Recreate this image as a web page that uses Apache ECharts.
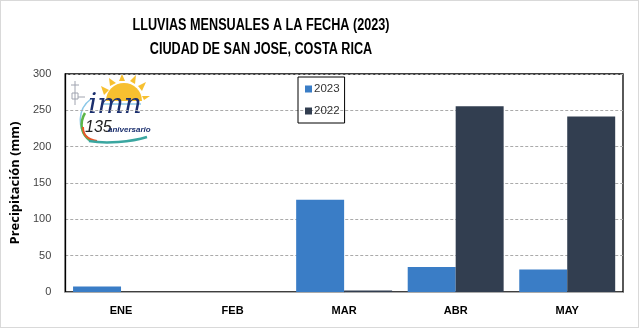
<!DOCTYPE html>
<html><head><meta charset="utf-8">
<script src="https://cdn.jsdelivr.net/npm/echarts@6/dist/echarts.min.js"></script>
<style>html,body{margin:0;padding:0;background:#fff}#c{width:639px;height:328px;box-sizing:border-box;border:1px solid #d9d9d9}</style>
</head><body><div id="c"></div>
<script>
const categories = ['ENE','FEB','MAR','ABR','MAY'];
const serie2023 = [7.5, 0, 127, 34.5, 31];
const serie2022 = [0, 0, 2, 255.5, 241.5];
const yTicks = [0, 50, 100, 150, 200, 250, 300];
const titleLines = ['LLUVIAS MENSUALES A LA FECHA (2023)', 'CIUDAD DE SAN JOSE, COSTA RICA'];

const chart = echarts.init(document.getElementById('c'), null, {renderer:'canvas'});
const sun = '#F7C030';
chart.setOption({
  animation:false,
  legend:{
    orient:'vertical', left:297, top:76,
    itemWidth:7, itemHeight:7, itemGap:10, padding:[6,5,6,7],
    borderColor:'#000', borderWidth:1, icon:'rect',
    textStyle:{fontFamily:'Liberation Sans, sans-serif', fontSize:11.5, color:'#333', padding:[0,0,0,-3]},
    data:['2023','2022']
  },
  grid:{left:63, right:15, top:73, bottom:35, show:true, borderColor:'#000', borderWidth:1.3, backgroundColor:'transparent'},
  xAxis:{
    type:'category', data:categories,
    axisLine:{show:true, lineStyle:{color:'#aaa'}}, axisTick:{show:false},
    axisLabel:{fontFamily:'Liberation Sans, sans-serif', fontWeight:'bold', fontSize:11, color:'#000', margin:13}
  },
  yAxis:{
    type:'value', min:yTicks[0], max:yTicks[yTicks.length-1], interval:50,
    name:'Precipitación (mm)', nameLocation:'middle', nameGap:31,
    nameTextStyle:{fontFamily:'Open Sans, sans-serif', fontWeight:'bold', fontSize:13, color:'#000'},
    axisLine:{show:true, lineStyle:{color:'#000', width:1.3}}, axisTick:{show:false},
    axisLabel:{fontFamily:'Liberation Sans, sans-serif', fontSize:11, color:'#444', margin:14},
    splitLine:{lineStyle:{color:'#aaa', type:[3,2]}}
  },
  series:[
    {name:'2023', type:'bar', data:serie2023, barGap:'0%', barCategoryGap:'14%', itemStyle:{color:'#3A7DC6'}},
    {name:'2022', type:'bar', data:serie2022, itemStyle:{color:'#323E50'}}
  ],
  graphic:[
    {type:'text', x:260, y:24.5, scaleX:0.79, style:{text:titleLines[0], x:0, y:0, align:'center', verticalAlign:'middle', fontFamily:'Liberation Sans, sans-serif', fontWeight:'bold', fontSize:16, fill:'#000'}},
    {type:'text', x:260, y:49, scaleX:0.79, style:{text:titleLines[1], x:0, y:0, align:'center', verticalAlign:'middle', fontFamily:'Liberation Sans, sans-serif', fontWeight:'bold', fontSize:16, fill:'#000'}},
    {type:'group', x:0, y:0, z:100, children:[
      {type:'rect', shape:{x:65, y:75, width:85, height:70}, style:{fill:'#fff'}},
      // sun
      {type:'sector', shape:{cx:123, cy:100, r0:0, r:18, startAngle:Math.PI, endAngle:2*Math.PI}, style:{fill:sun}},
      {type:'polygon', shape:{points:[[103,94],[100,85],[108,89]]}, style:{fill:sun}},
      {type:'polygon', shape:{points:[[109,85],[108,77],[115,82]]}, style:{fill:sun}},
      {type:'polygon', shape:{points:[[118,80],[121,73],[124,80]]}, style:{fill:sun}},
      {type:'polygon', shape:{points:[[129,80],[135,74],[134,83]]}, style:{fill:sun}},
      {type:'polygon', shape:{points:[[137,85],[145,81],[141,90]]}, style:{fill:sun}},
      {type:'polygon', shape:{points:[[141,95],[149,95],[143,99]]}, style:{fill:sun}},
      {type:'rect', shape:{x:94, y:100, width:56, height:4}, style:{fill:'#fff'}},
      {type:'line', shape:{x1:100, y1:103, x2:140, y2:103}, style:{stroke:'#8CC8E8', lineWidth:1.5}},
      // tower
      {type:'line', shape:{x1:74, y1:80, x2:74, y2:104}, style:{stroke:'#A0A4B0', lineWidth:1}},
      {type:'line', shape:{x1:70, y1:84, x2:78, y2:84}, style:{stroke:'#A0A4B0', lineWidth:1}},
      {type:'rect', shape:{x:71, y:92, width:6, height:6}, style:{fill:'none', stroke:'#A0A4B0', lineWidth:1}},
      {type:'line', shape:{x1:77, y1:96, x2:84, y2:96}, style:{stroke:'#A0A4B0', lineWidth:1}},
      // swooshes
      {type:'bezierCurve', shape:{x1:90, y1:98, cpx1:76, cpy1:108, cpx2:76, cpy2:128, x2:88, y2:140}, style:{stroke:'#8CC8E8', lineWidth:1.5, fill:'none'}},
      {type:'bezierCurve', shape:{x1:84, y1:112, cpx1:78, cpy1:122, cpx2:80, cpy2:134, x2:90, y2:140}, style:{stroke:'#5DB548', lineWidth:2.5, fill:'none'}},
      {type:'bezierCurve', shape:{x1:82, y1:126, cpx1:82, cpy1:134, cpx2:86, cpy2:138, x2:96, y2:140}, style:{stroke:'#E8572A', lineWidth:2, fill:'none'}},
      {type:'bezierCurve', shape:{x1:88, y1:140, cpx1:105, cpy1:143, cpx2:130, cpy2:141, x2:146, y2:136}, style:{stroke:'#3AA6A0', lineWidth:2.5, fill:'none'}},
      // text
      {type:'text', style:{x:114, y:119, text:'imn', align:'center', verticalAlign:'bottom', fontFamily:'DejaVu Serif, serif', fontStyle:'italic', fontSize:28, fill:'#1B2F6E'}},
      {type:'text', style:{x:84, y:135, text:'135', verticalAlign:'bottom', fontFamily:'Liberation Sans, sans-serif', fontStyle:'italic', fontSize:16, fill:'#222'}},
      {type:'text', style:{x:107, y:133, text:'aniversario', verticalAlign:'bottom', fontFamily:'Liberation Sans, sans-serif', fontStyle:'italic', fontWeight:'bold', fontSize:8, fill:'#1B2F6E'}}
    ]}
  ]
});
</script></body></html>
